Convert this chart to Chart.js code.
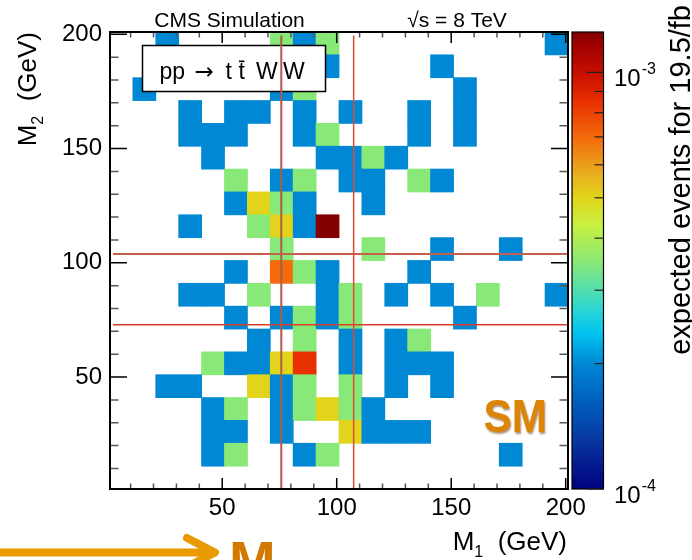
<!DOCTYPE html>
<html>
<head>
<meta charset="utf-8">
<script src="https://cdn.jsdelivr.net/npm/chart.js@4.4.1/dist/chart.umd.min.js"></script>
<style>
html,body{margin:0;padding:0;background:#ffffff;}
canvas{display:block;}
</style>
</head>
<body>
<canvas id="c" width="692" height="560"></canvas>
<script>
// ---------------- data ----------------
const m1Range = [1, 201];          // GeV, axis range of M1
const m2Range = [1, 201];          // GeV, axis range of M2
const binWidth = 10;               // GeV
const xTickValues = [50, 100, 150, 200];
const yTickValues = [50, 100, 150, 200];
const zRange = [1e-4, 1.25e-3];    // expected events (colour scale)
const zMajorTicks = [1e-4, 1e-3];
const zMinorTicks = [2e-4, 3e-4, 4e-4, 5e-4, 6e-4, 7e-4, 8e-4, 9e-4];
const zLabels = [["10", "-4"], ["10", "-3"]];

// lower bin edges (GeV) and expected events of the filled cells, row by row (top to bottom)
const cellM1 = [
  21, 71, 81, 91, 191,
  91, 141,
  11, 71, 81, 151,
  31, 51, 61, 81, 101, 131, 151,
  31, 41, 51, 81, 91, 131, 151,
  41, 91, 101, 111, 121,
  51, 71, 81, 101, 111, 131, 141,
  51, 61, 71, 81, 111,
  31, 61, 71, 81, 91,
  71, 111, 141, 171,
  51, 71, 81, 91, 131,
  31, 41, 61, 91, 101, 121, 141, 161, 191,
  51, 71, 81, 91, 101, 151,
  61, 81, 101, 121, 131,
  41, 51, 61, 71, 81, 101, 121, 131, 141,
  21, 31, 61, 71, 81, 101, 121, 141,
  41, 51, 71, 81, 91, 101, 111,
  41, 51, 71, 101, 111, 121, 131,
  41, 51, 81, 91, 171
];
const cellM2 = [
  191, 191, 191, 191, 191,
  181, 181,
  171, 171, 171, 171,
  161, 161, 161, 161, 161, 161, 161,
  151, 151, 151, 151, 151, 151, 151,
  141, 141, 141, 141, 141,
  131, 131, 131, 131, 131, 131, 131,
  121, 121, 121, 121, 121,
  111, 111, 111, 111, 111,
  101, 101, 101, 101,
  91, 91, 91, 91, 91,
  81, 81, 81, 81, 81, 81, 81, 81, 81,
  71, 71, 71, 71, 71, 71,
  61, 61, 61, 61, 61,
  51, 51, 51, 51, 51, 51, 51, 51, 51,
  41, 41, 41, 41, 41, 41, 41, 41,
  31, 31, 31, 31, 31, 31, 31,
  21, 21, 21, 21, 21, 21, 21,
  11, 11, 11, 11, 11
];
const cellEvents = [
  2.0e-4, 3.5e-4, 2.0e-4, 3.5e-4, 2.0e-4,
  2.0e-4, 2.0e-4,
  2.0e-4, 2.0e-4, 3.5e-4, 2.0e-4,
  2.0e-4, 2.0e-4, 2.0e-4, 2.0e-4, 2.0e-4, 2.0e-4, 2.0e-4,
  2.0e-4, 2.0e-4, 2.0e-4, 2.0e-4, 3.5e-4, 2.0e-4, 2.0e-4,
  2.0e-4, 2.0e-4, 2.0e-4, 3.5e-4, 2.0e-4,
  3.5e-4, 2.0e-4, 3.5e-4, 2.0e-4, 2.0e-4, 3.5e-4, 2.0e-4,
  2.0e-4, 5.0e-4, 3.5e-4, 2.0e-4, 2.0e-4,
  2.0e-4, 3.5e-4, 5.0e-4, 2.0e-4, 1.24e-3,
  3.5e-4, 3.5e-4, 2.0e-4, 2.0e-4,
  2.0e-4, 7.0e-4, 3.5e-4, 2.0e-4, 2.0e-4,
  2.0e-4, 2.0e-4, 3.5e-4, 2.0e-4, 3.5e-4, 2.0e-4, 2.0e-4, 3.5e-4, 2.0e-4,
  2.0e-4, 2.0e-4, 3.5e-4, 2.0e-4, 3.5e-4, 2.0e-4,
  2.0e-4, 3.5e-4, 2.0e-4, 2.0e-4, 3.5e-4,
  3.5e-4, 2.0e-4, 2.0e-4, 5.0e-4, 8.5e-4, 2.0e-4, 2.0e-4, 2.0e-4, 2.0e-4,
  2.0e-4, 2.0e-4, 5.0e-4, 2.0e-4, 3.5e-4, 3.5e-4, 2.0e-4, 2.0e-4,
  2.0e-4, 3.5e-4, 2.0e-4, 3.5e-4, 5.0e-4, 3.5e-4, 2.0e-4,
  2.0e-4, 2.0e-4, 2.0e-4, 5.0e-4, 2.0e-4, 2.0e-4, 2.0e-4,
  2.0e-4, 3.5e-4, 2.0e-4, 3.5e-4, 2.0e-4
];

// cut lines (GeV)
const cutM1 = [75.8, 107.4];        // vertical lines
const cutM1Span = [1, 199.5];       // their M2 extent
const cutM2 = [103.8, 72.9];        // horizontal lines
const cutM2Span = [2.3, 201];       // their M1 extent

// ---------------- styling ----------------
const FONT = '"Liberation Sans", Arial, Helvetica, sans-serif';
Chart.defaults.font.family = FONT;

const paletteStops = [
  [0.000, '#000080'], [0.107, '#0838a0'], [0.195, '#0060c0'], [0.2744, '#0088d4'],
  [0.341, '#00c4f0'], [0.398, '#30d8d0'], [0.496, '#88e878'], [0.578, '#c8f040'],
  [0.637, '#e2d41a'], [0.687, '#e8b020'], [0.770, '#f46a0c'], [0.847, '#e83000'],
  [0.906, '#c81000'], [0.972, '#a00000'], [1.000, '#800000']
];
function hexRgb(h){ return [parseInt(h.substr(1,2),16), parseInt(h.substr(3,2),16), parseInt(h.substr(5,2),16)]; }
function zFrac(v){
  const a = Math.log10(zRange[0]), b = Math.log10(zRange[1]);
  return Math.min(1, Math.max(0, (Math.log10(v) - a) / (b - a)));
}
function eventColor(v){
  const f = zFrac(v);
  for (let i = 1; i < paletteStops.length; i++) {
    const [f1, c1] = paletteStops[i];
    if (f <= f1) {
      const [f0, c0] = paletteStops[i-1];
      const t = (f - f0) / (f1 - f0);
      const a = hexRgb(c0), b = hexRgb(c1);
      return 'rgb(' + a.map((x, k) => Math.round(x + (b[k] - x) * t)).join(',') + ')';
    }
  }
  return paletteStops[paletteStops.length-1][1];
}

const cellData = cellM1.map((m1, k) => ({
  x: m1 + binWidth / 2,
  y: [cellM2[k], cellM2[k] + binWidth],
  v: cellEvents[k]
}));

const lineStyles = [
  { color: '#b05a4a', width: 2 },
  { color: '#de4a36', width: 1.5 },
  { color: '#c6604f', width: 2 },
  { color: '#d8402c', width: 1.5 }
];
const lineDatasets = [
  [{x: cutM1[0], y: cutM1Span[0]}, {x: cutM1[0], y: cutM1Span[1]}],
  [{x: cutM1[1], y: cutM1Span[0]}, {x: cutM1[1], y: cutM1Span[1]}],
  [{x: cutM2Span[0], y: cutM2[0]}, {x: cutM2Span[1], y: cutM2[0]}],
  [{x: cutM2Span[0], y: cutM2[1]}, {x: cutM2Span[1], y: cutM2[1]}]
].map((d, i) => ({
  type: 'line', data: d, xAxisID: 'x', yAxisID: 'y', order: 0,
  borderColor: lineStyles[i].color, borderWidth: lineStyles[i].width,
  pointRadius: 0, fill: false, tension: 0
}));

function zPix(chart, v){
  const s = chart.scales.zAxis;
  let p = s ? s.getPixelForValue(v) : NaN;
  if (!isFinite(p)) {
    const a = chart.chartArea;
    p = a.bottom - zFrac(v) * (a.bottom - a.top);
  }
  return p;
}

function drawSubscripted(ctx, main, sub, rest, size, subSize, subDrop){
  ctx.font = size + 'px ' + FONT;
  const wM = ctx.measureText(main).width;
  ctx.font = subSize + 'px ' + FONT;
  const wS = ctx.measureText(sub).width;
  ctx.font = size + 'px ' + FONT;
  const wR = ctx.measureText(rest).width;
  return { w: wM + wS + wR, draw: (x, y) => {
    ctx.font = size + 'px ' + FONT; ctx.fillText(main, x, y);
    ctx.font = subSize + 'px ' + FONT; ctx.fillText(sub, x + wM, y + subDrop);
    ctx.font = size + 'px ' + FONT; ctx.fillText(rest, x + wM + wS, y);
  }};
}

const boxPlugin = {
  id: 'processBox',
  afterDatasetDraw(chart, args){
    if (args.index !== 0) return;
    const ctx = chart.ctx;
    ctx.save();
    ctx.fillStyle = '#ffffff';
    ctx.fillRect(142, 45, 184, 47);
    ctx.strokeStyle = '#000';
    ctx.lineWidth = 1.5;
    ctx.strokeRect(142.5, 45.5, 183, 46);
    ctx.fillStyle = '#000';
    ctx.textBaseline = 'alphabetic';
    ctx.textAlign = 'left';
    const base = 79;
    ctx.font = '23px ' + FONT;
    ctx.fillText('pp', 159.5, base);
    ctx.font = '23px "DejaVu Sans", ' + FONT;
    ctx.fillText('\u2192', 194.5, base);
    ctx.font = '23px ' + FONT;
    ctx.fillText('t', 225.5, base);
    ctx.fillText('t', 238.5, base);
    const tw = ctx.measureText('t').width;
    ctx.fillRect(239, 60.5, tw - 1, 1.7);
    ctx.fillText('W', 256, base);
    ctx.fillText('W', 283, base);
    ctx.restore();
  }
};

const framePlugin = {
  id: 'frameAndDecor',
  afterDraw(chart){
    const ctx = chart.ctx;
    const a = chart.chartArea;
    const xs = chart.scales.x, ys = chart.scales.y;
    ctx.save();
    // ticks (inward)
    for (let v = 10; v <= 200; v += 10) {
      const major = v % 50 === 0;
      ctx.strokeStyle = major ? '#000' : '#555';
      ctx.lineWidth = 1.5;
      const px = xs.getPixelForValue(v);
      const lx = major ? 11 : 5.5;
      ctx.beginPath();
      ctx.moveTo(px, a.bottom); ctx.lineTo(px, a.bottom - lx);
      ctx.moveTo(px, a.top); ctx.lineTo(px, a.top + lx);
      ctx.stroke();
      const py = ys.getPixelForValue(v);
      const ly = major ? 17 : 8.5;
      ctx.beginPath();
      ctx.moveTo(a.left, py); ctx.lineTo(a.left + ly, py);
      ctx.moveTo(a.right, py); ctx.lineTo(a.right - ly, py);
      ctx.stroke();
    }
    // frame
    ctx.strokeStyle = '#000';
    ctx.lineWidth = 2;
    ctx.strokeRect(a.left, a.top, a.right - a.left, a.bottom - a.top);

    // colour bar
    const cbL = 572, cbR = 603.5;
    const zTop = zPix(chart, zRange[1]), zBot = zPix(chart, zRange[0]);
    const grad = ctx.createLinearGradient(0, zBot, 0, zTop);
    paletteStops.forEach(([f, c]) => grad.addColorStop(f, c));
    ctx.fillStyle = grad;
    ctx.fillRect(cbL, zTop, cbR - cbL, zBot - zTop);
    ctx.strokeStyle = '#000';
    ctx.lineWidth = 1.2;
    ctx.strokeRect(cbL, zTop, cbR - cbL, zBot - zTop);
    ctx.strokeStyle = '#222';
    ctx.lineWidth = 1.2;
    zMinorTicks.forEach(v => {
      const p = zPix(chart, v);
      ctx.beginPath(); ctx.moveTo(cbR, p); ctx.lineTo(cbR - 9, p); ctx.stroke();
    });
    zMajorTicks.forEach(v => {
      const p = zPix(chart, v);
      ctx.beginPath(); ctx.moveTo(cbR, p); ctx.lineTo(cbR - 17, p); ctx.stroke();
    });
    ctx.fillStyle = '#000';
    ctx.textAlign = 'left';
    ctx.textBaseline = 'alphabetic';
    zMajorTicks.forEach((v, i) => {
      const p = zPix(chart, v);
      ctx.font = '24px ' + FONT;
      ctx.fillText(zLabels[i][0], 614, p + 14);
      const w = ctx.measureText(zLabels[i][0]).width;
      ctx.font = '16px ' + FONT;
      ctx.fillText(zLabels[i][1], 614 + w + 1, p + 2);
    });

    // colour bar title
    ctx.save();
    ctx.translate(689.5, 5);
    ctx.rotate(-Math.PI / 2);
    ctx.font = '29px ' + FONT;
    ctx.textAlign = 'right';
    ctx.fillText('expected events for 19.5/fb', 0, 0);
    ctx.restore();

    // axis titles
    ctx.textAlign = 'left';
    const xt = drawSubscripted(ctx, 'M', '1', '  (GeV)', 26, 16, 7);
    xt.draw(567 - xt.w, 549.5);
    ctx.save();
    ctx.translate(36, 32);
    ctx.rotate(-Math.PI / 2);
    const yt = drawSubscripted(ctx, 'M', '2', '  (GeV)', 26, 16, 7);
    yt.draw(-yt.w, 0);
    ctx.restore();

    // header texts
    ctx.font = '21px ' + FONT;
    ctx.textAlign = 'center';
    ctx.fillText('CMS Simulation', 229.5, 27);
    ctx.fillText('\u221As = 8 TeV', 457, 27);

    // SM label
    ctx.save();
    ctx.shadowColor = 'rgba(110,55,0,0.55)';
    ctx.shadowOffsetX = 1; ctx.shadowOffsetY = 1.5; ctx.shadowBlur = 2;
    ctx.fillStyle = '#dc8406';
    ctx.translate(483.5, 432);
    ctx.scale(0.92, 1);
    ctx.font = 'bold 46px ' + FONT;
    ctx.textAlign = 'left';
    ctx.fillText('SM', 0, 0);
    ctx.restore();

    // arrow and M at the bottom
    ctx.save();
    ctx.strokeStyle = '#e89a00';
    ctx.lineWidth = 8;
    ctx.lineCap = 'round';
    ctx.lineJoin = 'round';
    ctx.beginPath();
    ctx.moveTo(-6, 552.5); ctx.lineTo(214, 552.5);
    ctx.moveTo(187, 538); ctx.lineTo(215, 552.5); ctx.lineTo(187, 567);
    ctx.stroke();
    ctx.fillStyle = '#d27a00';
    ctx.font = 'bold 56px ' + FONT;
    ctx.textAlign = 'left';
    ctx.fillText('M', 229, 580);
    ctx.restore();

    ctx.restore();
  }
};

new Chart(document.getElementById('c'), {
  type: 'bar',
  data: {
    datasets: [
      {
        type: 'bar', label: 'cells', data: cellData, xAxisID: 'x', yAxisID: 'y', order: 5,
        backgroundColor: (c) => (c.raw && c.raw.v) ? eventColor(c.raw.v) : 'rgba(0,0,0,0)',
        borderWidth: 0, barPercentage: 1, categoryPercentage: 1, inflateAmount: 0.4
      },
      ...lineDatasets
    ]
  },
  options: {
    responsive: false,
    animation: false,
    devicePixelRatio: 1,
    events: [],
    layout: { padding: { top: 32, right: 124, bottom: 0, left: 0 } },
    plugins: { legend: { display: false }, tooltip: { enabled: false } },
    scales: {
      x: {
        type: 'linear', position: 'bottom', min: m1Range[0], max: m1Range[1], offset: false,
        grid: { display: false, drawTicks: false, offset: false },
        border: { display: false },
        ticks: { color: '#000', font: { size: 24 }, padding: 5, maxRotation: 0, autoSkip: false,
                 callback: (v) => String(v) },
        afterBuildTicks: (s) => { s.ticks = xTickValues.map(v => ({ value: v })); },
        afterFit: (s) => { s.height = 71; }
      },
      y: {
        type: 'linear', position: 'left', min: m2Range[0], max: m2Range[1],
        grid: { display: false, drawTicks: false },
        border: { display: false },
        ticks: { color: '#000', font: { size: 24 }, padding: 8, autoSkip: false,
                 callback: (v) => String(v) },
        afterBuildTicks: (s) => { s.ticks = yTickValues.map(v => ({ value: v })); },
        afterFit: (s) => { s.width = 110; }
      },
      zAxis: {
        type: 'logarithmic', axis: 'y', position: 'right', display: false,
        min: zRange[0], max: zRange[1]
      }
    }
  },
  plugins: [boxPlugin, framePlugin]
});
</script>
</body>
</html>
